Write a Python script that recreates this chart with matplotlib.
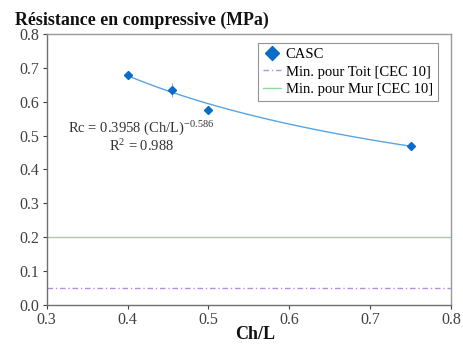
import numpy as np
import matplotlib.pyplot as plt

plt.rcParams['font.family'] = ['Liberation Serif', 'DejaVu Serif']
plt.rcParams['mathtext.fontset'] = 'custom'
plt.rcParams['mathtext.rm'] = 'Liberation Serif'
plt.rcParams['mathtext.it'] = 'Liberation Serif:italic'

# measured points
ch_l = [0.40, 0.455, 0.50, 0.75]
rc = [0.680, 0.634, 0.577, 0.470]
rc_err = [0.005, 0.02, 0.005, 0.004]

# power fit Rc = a (Ch/L)^b
a_fit = 0.3958
b_fit = -0.586

min_toit = 0.05
min_mur = 0.2

fig = plt.figure(figsize=(4.64, 3.44), dpi=100)
ax = fig.add_axes([0.1006, 0.1142, 0.8714, 0.7868])

x_fit = np.linspace(min(ch_l), max(ch_l), 100)
ax.plot(x_fit, a_fit * x_fit ** b_fit, color='#5aa5e0', lw=1.0, zorder=2)
ax.errorbar(ch_l, rc, yerr=rc_err, fmt='none', ecolor='#9a9a9a', elinewidth=0.6, zorder=2)
ax.plot(ch_l, rc, 'D', color='#0a6cc8', ms=4.5, ls='none', zorder=3, label='CASC')
ax.axhline(min_toit, color='#b590e0', lw=1.0, ls=(0, (4, 2, 1, 2)), label='Min. pour Toit [CEC 10]')
ax.axhline(min_mur, color='#8fd8a8', lw=1.0, label='Min. pour Mur [CEC 10]')

ax.set_xlim(0.3, 0.8)
ax.set_ylim(0.0, 0.8)
ax.set_xticks([0.3, 0.4, 0.5, 0.6, 0.7, 0.8])
ax.set_yticks(np.arange(0, 0.81, 0.1))
ax.set_yticklabels(['%.1f' % v for v in np.arange(0, 0.81, 0.1)])
ax.tick_params(labelsize=11.5, colors='#404040', length=3, width=0.8, pad=2.5)
for s in ax.spines.values():
    s.set_color('#9a9a9a')
    s.set_linewidth(1.0)
ax.spines['left'].set_color('#707070')
ax.spines['bottom'].set_color('#707070')

ax.text(0.417, 0.521, r'Rc = 0.3958 (Ch/L)$^{\mathregular{-0.586}}$', ha='center', va='center',
        fontsize=10.5, color='#333333')
ax.text(0.417, 0.468, r'R$^{\mathregular{2}}$ = 0.988', ha='center', va='center', fontsize=10.5,
        color='#333333')

leg = ax.legend(loc='upper right', bbox_to_anchor=(0.968, 0.967), fontsize=10.5, frameon=True,
                fancybox=False, edgecolor='#7a7a7a', handlelength=1.2, handletextpad=0.35,
                borderpad=0.35, labelspacing=0.28, borderaxespad=0.0, markerscale=1.5)
leg.get_frame().set_linewidth(0.8)

fig.text(0.032, 0.94, 'Résistance en compressive (MPa)', fontsize=12.9, fontweight='bold',
         va='center', ha='left', color='#111111')
fig.text(0.55, 0.027, 'Ch/L', fontsize=13, fontweight='bold', va='center', ha='center',
         color='#111111')

fig.savefig('out.png', dpi=100)
